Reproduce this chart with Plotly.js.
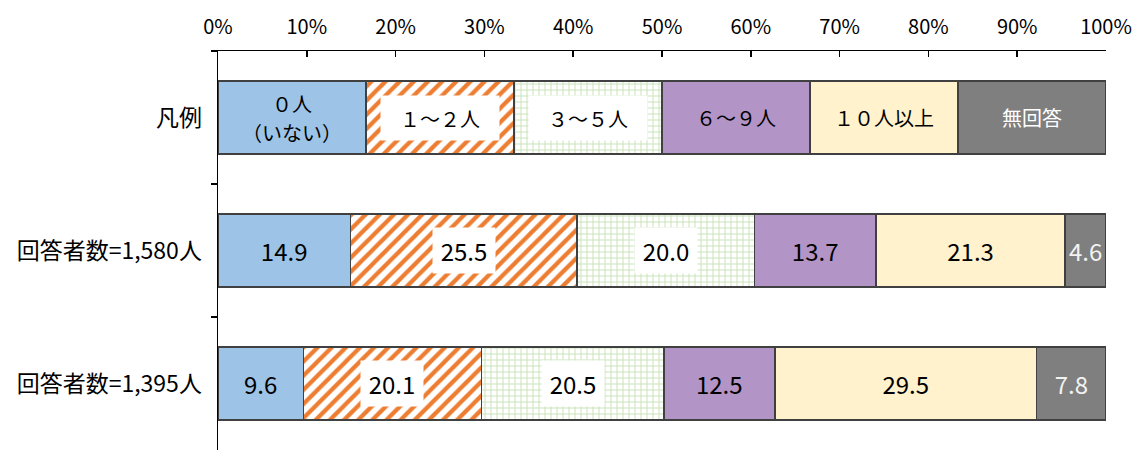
<!DOCTYPE html>
<html><head><meta charset="utf-8">
<script src="https://cdn.plot.ly/plotly-3.0.1.min.js"></script>
<style>html,body{margin:0;padding:0;background:#fff;}#chart{width:1132px;height:450px;}</style>
</head><body><div id="chart"></div>
<script>
// ---- data ----
const rowLabels = ['凡例', '回答者数=1,580人', '回答者数=1,395人'];
const seriesNames = ['０人<br>（いない）', '１～２人', '３～５人', '６～９人', '１０人以上', '無回答'];
const legendShare = [16.67, 16.67, 16.66, 16.67, 16.67, 16.66];
const row1580 = [14.9, 25.5, 20.0, 13.7, 21.3, 4.6];
const row1395 = [9.6, 20.1, 20.5, 12.5, 29.5, 7.8];
const xTickVals = [0, 10, 20, 30, 40, 50, 60, 70, 80, 90, 100];
const xTickText = ['0%', '10%', '20%', '30%', '40%', '50%', '60%', '70%', '80%', '90%', '100%'];

// ---- styles ----
const FONT = '"Liberation Sans Narrow", "Noto Sans CJK JP", sans-serif';
const fills = ['#9DC3E6', '#FFFFFF', '#FFFFFF', '#B294C6', '#FFF2CC', '#7F7F7F'];
const patterns = [
  null,
  {shape: '/', fgcolor: '#ED7D31', bgcolor: '#FFFFFF', size: 10, solidity: 0.42},
  {shape: '+', fgcolor: '#C9E2B8', bgcolor: '#FFFFFF', size: 6, solidity: 0.3},
  null, null, null
];
const textColors = ['#000', '#000', '#000', '#000', '#000', '#FFF'];
const numColors = ['#000', '#000', '#000', '#000', '#000', '#F2F2F2'];
const hatched = [false, true, true, false, false, false];

const traces = [];
const annotations = [];
const rows = [legendShare, row1580, row1395];
const cum = [0, 0, 0];
for (let i = 0; i < seriesNames.length; i++) {
  const xs = rows.map(r => r[i]);
  const multiLine = seriesNames[i].indexOf('<br>') >= 0;
  const legendTxt = (hatched[i] || multiLine) ? '' : seriesNames[i];
  const txt = hatched[i] ? ['', '', ''] : [legendTxt, row1580[i].toFixed(1), row1395[i].toFixed(1)];
  const marker = {color: fills[i], line: {color: '#404040', width: 1.5}};
  if (patterns[i]) marker.pattern = patterns[i];
  traces.push({
    type: 'bar', orientation: 'h', y: rowLabels, x: xs,
    name: seriesNames[i], width: 0.55, marker: marker,
    text: txt, textposition: 'inside', insidetextanchor: 'middle',
    textangle: 0, constraintext: 'none', cliponaxis: false,
    textfont: {family: FONT, size: [20, 24, 24], color: [textColors[i], numColors[i], numColors[i]]},
    hoverinfo: 'skip'
  });
  if (multiLine && !hatched[i]) {
    const parts = seriesNames[i].split('<br>');
    parts.forEach((p, j) => {
      annotations.push({
        x: cum[0] + legendShare[i] / 2, y: rowLabels[0], xref: 'x', yref: 'y',
        text: p, showarrow: false, yshift: j === 0 ? 14 : -15,
        font: {family: FONT, size: 20, color: textColors[i]}
      });
    });
  }
  if (hatched[i]) {
    rows.forEach((r, k) => {
      const label = k === 0 ? seriesNames[i] : r[i].toFixed(1);
      annotations.push({
        x: cum[k] + r[i] / 2, y: rowLabels[k], xref: 'x', yref: 'y',
        text: label, showarrow: false, bgcolor: '#FFFFFF',
        width: k === 0 ? 110 : 52, height: k === 0 ? 36 : 35,
        borderpad: k === 0 ? 4 : 5, align: 'center', valign: 'middle',
        font: {family: FONT, size: k === 0 ? 20 : 24, color: '#000'}
      });
    });
  }
  rows.forEach((r, k) => { cum[k] += r[i]; });
}

const layout = {
  width: 1132, height: 450,
  margin: {l: 218, r: 26, t: 51, b: 0},
  paper_bgcolor: '#fff', plot_bgcolor: '#fff',
  barmode: 'stack', showlegend: false, hovermode: false,
  xaxis: {
    side: 'top', range: [0, 100], tickvals: xTickVals, ticktext: xTickText,
    ticks: 'inside', ticklen: 6, tickwidth: 1.5, tickcolor: '#000',
    ticklabelstandoff: 8,
    showline: true, linecolor: '#000', linewidth: 1.5,
    showgrid: false, zeroline: false, fixedrange: true,
    tickfont: {family: FONT, size: 20, color: '#000'}
  },
  yaxis: {
    type: 'category', autorange: 'reversed',
    ticks: 'outside', ticklen: 6, tickwidth: 1.5, tickcolor: '#000',
    tickson: 'boundaries', ticklabelstandoff: 10,
    showline: true, linecolor: '#000', linewidth: 1.5,
    showgrid: false, zeroline: false, fixedrange: true,
    tickfont: {family: FONT, size: 23, color: '#000'}
  },
  annotations: annotations
};

Plotly.newPlot('chart', traces, layout, {staticPlot: true, displayModeBar: false});
</script></body></html>
